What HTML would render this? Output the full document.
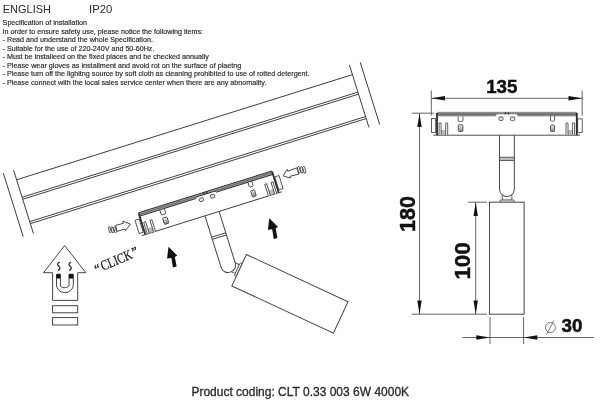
<!DOCTYPE html>
<html><head><meta charset="utf-8"><style>
html,body{margin:0;padding:0;background:#fff;width:600px;height:414px;overflow:hidden}
svg{display:block;will-change:transform}
</style></head><body>
<svg width="600" height="414" viewBox="0 0 600 414">
<defs>
<linearGradient id="band" x1="0" y1="0" x2="0" y2="1"><stop offset="0" stop-color="#a0a0a0"/><stop offset="0.5" stop-color="#6a6a6a"/><stop offset="1" stop-color="#999"/></linearGradient>
<linearGradient id="shade" x1="0" y1="0" x2="0" y2="1"><stop offset="0" stop-color="#eee"/><stop offset="1" stop-color="#888"/></linearGradient>
</defs>
<rect width="600" height="414" fill="#fff"/>
<text x="2.7" y="13" font-size="11" font-family="Liberation Sans" fill="#2a2a2a">ENGLISH</text>
<text x="89.0" y="13" font-size="11.3" font-family="Liberation Sans" fill="#2a2a2a">IP20</text>
<text x="2.6" y="25.30" font-size="7.7" textLength="84.5" lengthAdjust="spacingAndGlyphs" stroke="#2a2a2a" stroke-width="0.18" font-family="Liberation Sans" fill="#2a2a2a">Specification of installation</text>
<text x="2.6" y="33.79" font-size="7.7" textLength="200.5" lengthAdjust="spacingAndGlyphs" stroke="#2a2a2a" stroke-width="0.18" font-family="Liberation Sans" fill="#2a2a2a">In order to ensure safety use, please notice the following items:</text>
<text x="2.6" y="42.27" font-size="7.7" textLength="150.3" lengthAdjust="spacingAndGlyphs" stroke="#2a2a2a" stroke-width="0.18" font-family="Liberation Sans" fill="#2a2a2a">- Read and understand the whole Specification.</text>
<text x="2.6" y="50.76" font-size="7.7" textLength="151.8" lengthAdjust="spacingAndGlyphs" stroke="#2a2a2a" stroke-width="0.18" font-family="Liberation Sans" fill="#2a2a2a">- Suitable for the use of 220-240V and 50-60Hz.</text>
<text x="2.6" y="59.24" font-size="7.7" textLength="206.3" lengthAdjust="spacingAndGlyphs" stroke="#2a2a2a" stroke-width="0.18" font-family="Liberation Sans" fill="#2a2a2a">- Must be installeed on the fixed places and be checked annually</text>
<text x="2.6" y="67.73" font-size="7.7" textLength="238.8" lengthAdjust="spacingAndGlyphs" stroke="#2a2a2a" stroke-width="0.18" font-family="Liberation Sans" fill="#2a2a2a">- Please wear gloves as installment and avoid rot on the surface of plaetng</text>
<text x="2.6" y="76.22" font-size="7.7" textLength="307" lengthAdjust="spacingAndGlyphs" stroke="#2a2a2a" stroke-width="0.18" font-family="Liberation Sans" fill="#2a2a2a">- Please turn off the lighitng source by soft cloth as cleaning prohibited to use of rotted detergent.</text>
<text x="2.6" y="84.70" font-size="7.7" textLength="263.8" lengthAdjust="spacingAndGlyphs" stroke="#2a2a2a" stroke-width="0.18" font-family="Liberation Sans" fill="#2a2a2a">- Please connect with the local sales service center when there are any abnomality.</text>
<text x="191.4" y="395.5" font-size="12" stroke="#2a2a2a" stroke-width="0.3" font-family="Liberation Sans" fill="#2a2a2a">Product coding: CLT 0.33 003 6W 4000K</text>
<g transform="translate(102.7,270.3) rotate(-23)" font-family="Liberation Serif" fill="#222">
<text x="-6.8" y="0.6" font-size="12.5" stroke="#222" stroke-width="0.4">“</text>
<text x="0" y="0.6" font-size="14" textLength="33" lengthAdjust="spacingAndGlyphs" stroke="#222" stroke-width="0.25">CLICK</text>
<text x="34.3" y="-0.6" font-size="12.5" stroke="#222" stroke-width="0.4">”</text>
</g>
<g transform="translate(90,156.8) rotate(-17.38)" stroke="#3c3c3c" stroke-width="0.9" fill="none">
<line x1="-76.9" y1="0" x2="275" y2="0"/>
<line x1="-76.9" y1="18.3" x2="275" y2="18.3"/>
<line x1="-76.9" y1="20.4" x2="275" y2="20.4"/>
<line x1="-76.9" y1="43.9" x2="275" y2="43.9"/>
<line x1="-76.9" y1="46.0" x2="275" y2="46.0"/>
<line x1="-76.9" y1="-10.1" x2="-76.9" y2="56.3"/>
<line x1="-87.6" y1="-10.2" x2="-87.6" y2="56.2"/>
<line x1="275" y1="-10.1" x2="275" y2="55.3"/>
<line x1="286.1" y1="-9.4" x2="286.1" y2="55.7"/>
</g>
<g transform="translate(289.9,293.8) rotate(-65.1) translate(-506.8,-258.2)">
<rect x="502.2" y="193" width="9.7" height="7.1" fill="#fff" stroke="#444" stroke-width="0.9"/>
<rect x="500" y="200.1" width="14" height="2.1" fill="#fff" stroke="#444" stroke-width="0.7"/>
<rect x="489.5" y="202.2" width="34.6" height="112" fill="#fff" stroke="#444" stroke-width="1"/>
</g>
<g transform="translate(138.2,213.5) rotate(-17.4)">
<path d="M63,22.2 V76.3 A7.4,7.2 0 0 0 77.8,76.3 V22.2" fill="#fff" stroke="#444" stroke-width="1"/>
<path d="M63,44.6 H77.8 M63,46.8 H77.8" stroke="#444" stroke-width="0.9"/>
<path d="M0.8,-0.6 H140.3 V3.0 H81 L80,1.6 H60.5 L59.5,3.0 H0.8 Z" fill="#999"/>
<path d="M0.5,-0.6 H140.3 M0.8,3.0 H59.5 L60.5,1.6 H80 L81,3.0 H140.3" stroke="#333" stroke-width="0.9" fill="none"/>
<path d="M0.8,1.2 H59.8 M80.7,1.2 H140.3" stroke="#555" stroke-width="0.6" fill="none"/>
<path d="M0.5,0 V22.2 M140.3,0 V22.2" stroke="#2a2a2a" stroke-width="1.8" fill="none"/>
<line x1="-3.2" y1="22.2" x2="143.5" y2="22.2" stroke="#3a3a3a" stroke-width="0.9"/>
<rect x="-5.1" y="5.6" width="4.3" height="13.8" fill="none" stroke="#3a3a3a" stroke-width="0.8"/>
<rect x="141.2" y="5.9" width="4.5" height="13.6" fill="none" stroke="#3a3a3a" stroke-width="0.8"/>
<rect x="3.1" y="17" width="7.6" height="5" fill="#bbb"/>
<path d="M2.6,22 V10 H4.6 V22 M9.2,22 V10 H11.2 V22" fill="#fff" stroke="#3a3a3a" stroke-width="0.8"/>
<rect x="130.0" y="17" width="7.6" height="5" fill="#bbb"/>
<path d="M129.5,22 V10 H131.5 V22 M136.1,22 V10 H138.1 V22" fill="#fff" stroke="#3a3a3a" stroke-width="0.8"/>
<path d="M21.6,3.3 V7.6 Q21.6,8.4 22.4,8.4 H25.6 Q26.4,8.4 26.4,7.6 V3.3" fill="none" stroke="#3a3a3a" stroke-width="0.8"/>
<path d="M114,2.6 V7.4 Q114,8.2 114.8,8.2 H117.2 Q118,8.2 118,7.4 V2.6" fill="none" stroke="#3a3a3a" stroke-width="0.8"/>
<rect x="21.8" y="11.7" width="4.6" height="6.7" rx="0.8" fill="url(#shade)" stroke="#3a3a3a" stroke-width="0.8"/>
<rect x="114" y="12" width="4" height="6.5" rx="0.8" fill="url(#shade)" stroke="#3a3a3a" stroke-width="0.8"/>
<rect x="62.4" y="4.1" width="4.2" height="3.3" rx="1" fill="#eee" stroke="#3a3a3a" stroke-width="0.8"/>
<rect x="73.8" y="4.1" width="4.5" height="3.3" rx="1" fill="#eee" stroke="#3a3a3a" stroke-width="0.8"/>
<rect x="68.2" y="-0.6" width="1.2" height="2" fill="#222"/>
<rect x="71.3" y="-0.6" width="1.2" height="2" fill="#222"/>
</g>
<path d="M130.4,224.1 L122.8,221.2 L123.3,223.3 L115.6,225.4 L117,231.4 L124.7,229.0 L125.4,230.7 Z" fill="#fff" stroke="#333" stroke-width="0.9" stroke-linejoin="round"/>
<path d="M108.3,227.3 Q109.3,225.8 109.89999999999999,226.9 L111.2,231.5 Q110.89999999999999,233.6 109.5,232.4 Z" fill="none" stroke="#333" stroke-width="0.8"/>
<path d="M110.89999999999999,227.3 Q111.89999999999999,225.8 112.49999999999999,226.9 L113.8,231.5 Q113.49999999999999,233.6 112.1,232.4 Z" fill="none" stroke="#333" stroke-width="0.8"/>
<path d="M113.5,227.3 Q114.5,225.8 115.1,226.9 L116.4,231.5 Q116.1,233.6 114.7,232.4 Z" fill="none" stroke="#333" stroke-width="0.8"/>
<path d="M283.1,175.9 L287.4,169.4 L287.9,171.2 L296.8,167.8 L298.7,174.1 L290.0,176.3 L290.3,178.1 Z" fill="#fff" stroke="#333" stroke-width="0.9" stroke-linejoin="round"/>
<path d="M297.2,167.7 Q298.2,165.6 299.0,166.6 L300.4,171.7 Q300.0,174 298.7,173 Z" fill="none" stroke="#333" stroke-width="0.8"/>
<path d="M299.9,167.7 Q300.9,165.6 301.7,166.6 L303.09999999999997,171.7 Q302.7,174 301.4,173 Z" fill="none" stroke="#333" stroke-width="0.8"/>
<path d="M302.59999999999997,167.7 Q303.59999999999997,165.6 304.4,166.6 L305.79999999999995,171.7 Q305.4,174 304.09999999999997,173 Z" fill="none" stroke="#333" stroke-width="0.8"/>
<path d="M168.50,246.80 L177.20,255.50 L174.80,256.90 L176.70,266.60 L172.90,267.50 L171.40,257.90 L167.10,258.40 Z" fill="#111"/>
<path d="M269.30,218.20 L278.00,226.90 L275.60,228.30 L277.50,238.00 L273.70,238.90 L272.20,229.30 L267.90,229.80 Z" fill="#111"/>
<path d="M64.6,245.5 L85.8,272.7 H77.7 V300.4 H52.6 V272.7 H43.5 Z" fill="#fff" stroke="#333" stroke-width="0.9" stroke-linejoin="miter"/>
<path d="M56.5,274.2 V285 A8.4,7.6 0 0 0 73.3,285 V274.2 H69 V285 A4.3,2.7 0 0 1 60.4,285 V274.2 Z" fill="#fff" stroke="#333" stroke-width="0.9"/>
<rect x="56.5" y="274.2" width="3.9" height="4.3" fill="#111"/>
<rect x="69" y="274.2" width="4.3" height="4.3" fill="#111"/>
<path d="M59.699999999999996,262 C57.0,263.6 57.199999999999996,265 58.8,266.3 C60.4,267.6 60.599999999999994,269 57.9,270.6" fill="none" stroke="#222" stroke-width="1.2"/>
<path d="M71.0,262 C68.3,263.6 68.5,265 70.1,266.3 C71.69999999999999,267.6 71.89999999999999,269 69.19999999999999,270.6" fill="none" stroke="#222" stroke-width="1.2"/>
<rect x="52.6" y="305.7" width="25.1" height="7.1" fill="none" stroke="#333" stroke-width="0.9"/>
<rect x="52.6" y="317.6" width="25.1" height="7.4" fill="none" stroke="#333" stroke-width="0.9"/>
<rect x="502.2" y="193" width="9.7" height="7.1" fill="#fff" stroke="#444" stroke-width="0.9"/>
<rect x="500" y="200.1" width="14" height="2.1" fill="#fff" stroke="#444" stroke-width="0.7"/>
<rect x="489.5" y="202.2" width="34.6" height="112" fill="#fff" stroke="#444" stroke-width="1"/>
<g transform="translate(436.5,113)">
<path d="M63,22.2 V76.3 A7.4,7.2 0 0 0 77.8,76.3 V22.2" fill="#fff" stroke="#444" stroke-width="1"/>
<rect x="63" y="44.2" width="14.8" height="3.4" fill="#bbb" stroke="#444" stroke-width="0.8"/>
<rect x="0.8" y="-1.2" width="139.6" height="4.6" fill="url(#band)"/>
<path d="M59,3.5 L60.5,1 H80 L81.5,3.5 Z" fill="#fff"/><line x1="60.5" y1="1.2" x2="80" y2="1.2" stroke="#bbb" stroke-width="0.6"/>
<path d="M0.5,0 V22.2 M140.3,0 V22.2" stroke="#2a2a2a" stroke-width="1.8" fill="none"/>
<line x1="-3.2" y1="22.2" x2="143.5" y2="22.2" stroke="#3a3a3a" stroke-width="0.9"/>
<rect x="-5.1" y="5.6" width="4.3" height="13.8" fill="none" stroke="#3a3a3a" stroke-width="0.8"/>
<rect x="141.2" y="5.9" width="4.5" height="13.6" fill="none" stroke="#3a3a3a" stroke-width="0.8"/>
<rect x="3.1" y="17" width="7.6" height="5" fill="#bbb"/>
<path d="M2.6,22 V10 H4.6 V22 M9.2,22 V10 H11.2 V22" fill="#fff" stroke="#3a3a3a" stroke-width="0.8"/>
<rect x="130.0" y="17" width="7.6" height="5" fill="#bbb"/>
<path d="M129.5,22 V10 H131.5 V22 M136.1,22 V10 H138.1 V22" fill="#fff" stroke="#3a3a3a" stroke-width="0.8"/>
<path d="M21.6,3.3 V7.6 Q21.6,8.4 22.4,8.4 H25.6 Q26.4,8.4 26.4,7.6 V3.3" fill="none" stroke="#3a3a3a" stroke-width="0.8"/>
<path d="M114,2.6 V7.4 Q114,8.2 114.8,8.2 H117.2 Q118,8.2 118,7.4 V2.6" fill="none" stroke="#3a3a3a" stroke-width="0.8"/>
<rect x="21.8" y="11.7" width="4.6" height="6.7" rx="0.8" fill="url(#shade)" stroke="#3a3a3a" stroke-width="0.8"/>
<rect x="114" y="12" width="4" height="6.5" rx="0.8" fill="url(#shade)" stroke="#3a3a3a" stroke-width="0.8"/>
<rect x="62.4" y="4.1" width="4.2" height="3.3" rx="1" fill="#eee" stroke="#3a3a3a" stroke-width="0.8"/>
<rect x="73.8" y="4.1" width="4.5" height="3.3" rx="1" fill="#eee" stroke="#3a3a3a" stroke-width="0.8"/>
<rect x="68.2" y="-0.6" width="1.2" height="2" fill="#222"/>
<rect x="71.3" y="-0.6" width="1.2" height="2" fill="#222"/>
</g>
<line x1="431.3" y1="90.5" x2="431.3" y2="115.4" stroke="#555" stroke-width="0.9"/>
<line x1="582.2" y1="90.5" x2="582.2" y2="115.5" stroke="#555" stroke-width="0.9"/>
<line x1="431.3" y1="98.3" x2="582.2" y2="98.3" stroke="#555" stroke-width="0.9"/>
<path d="M431.50,98.30 L445.00,96.10 L445.00,100.50 Z" fill="#111"/>
<path d="M582.00,98.30 L568.50,100.50 L568.50,96.10 Z" fill="#111"/>
<line x1="412" y1="113.2" x2="433.8" y2="113.2" stroke="#555" stroke-width="0.9"/>
<line x1="419.5" y1="113.2" x2="419.5" y2="314.2" stroke="#555" stroke-width="0.9"/>
<path d="M419.50,113.40 L421.70,126.90 L417.30,126.90 Z" fill="#111"/>
<path d="M419.50,314.00 L417.30,300.50 L421.70,300.50 Z" fill="#111"/>
<line x1="411.7" y1="314.2" x2="487" y2="314.2" stroke="#555" stroke-width="0.9"/>
<line x1="468" y1="202.2" x2="487" y2="202.2" stroke="#555" stroke-width="0.9"/>
<line x1="475.7" y1="202.2" x2="475.7" y2="314.2" stroke="#555" stroke-width="0.9"/>
<path d="M475.70,202.50 L477.90,216.00 L473.50,216.00 Z" fill="#111"/>
<path d="M475.70,314.00 L473.50,300.50 L477.90,300.50 Z" fill="#111"/>
<line x1="490" y1="317" x2="490" y2="344" stroke="#555" stroke-width="0.9"/>
<line x1="523.6" y1="317" x2="523.6" y2="344" stroke="#555" stroke-width="0.9"/>
<line x1="462.5" y1="337.5" x2="594" y2="337.5" stroke="#555" stroke-width="0.9"/>
<path d="M489.80,337.50 L476.30,339.70 L476.30,335.30 Z" fill="#111"/>
<path d="M523.80,337.50 L537.30,335.30 L537.30,339.70 Z" fill="#111"/>
<circle cx="550.4" cy="327.5" r="5" fill="none" stroke="#555" stroke-width="0.8"/>
<line x1="546.7" y1="334.6" x2="553.9" y2="320.4" stroke="#555" stroke-width="0.8"/>
<text x="486.2" y="92.8" font-size="17.6" textLength="31.2" lengthAdjust="spacingAndGlyphs" font-family="Liberation Sans" font-weight="bold" fill="#111" stroke="#111" stroke-width="0.45">135</text>
<text x="561.4" y="331.9" font-size="17.6" textLength="21" lengthAdjust="spacingAndGlyphs" font-family="Liberation Sans" font-weight="bold" fill="#111" stroke="#111" stroke-width="0.45">30</text>
<text transform="translate(414.9,232) rotate(-90)" font-size="21.8" textLength="36" lengthAdjust="spacingAndGlyphs" font-family="Liberation Sans" font-weight="bold" fill="#111" stroke="#111" stroke-width="0.45">180</text>
<text transform="translate(470.2,279.6) rotate(-90)" font-size="21.6" textLength="37.2" lengthAdjust="spacingAndGlyphs" font-family="Liberation Sans" font-weight="bold" fill="#111" stroke="#111" stroke-width="0.45">100</text>
</svg>
</body></html>
